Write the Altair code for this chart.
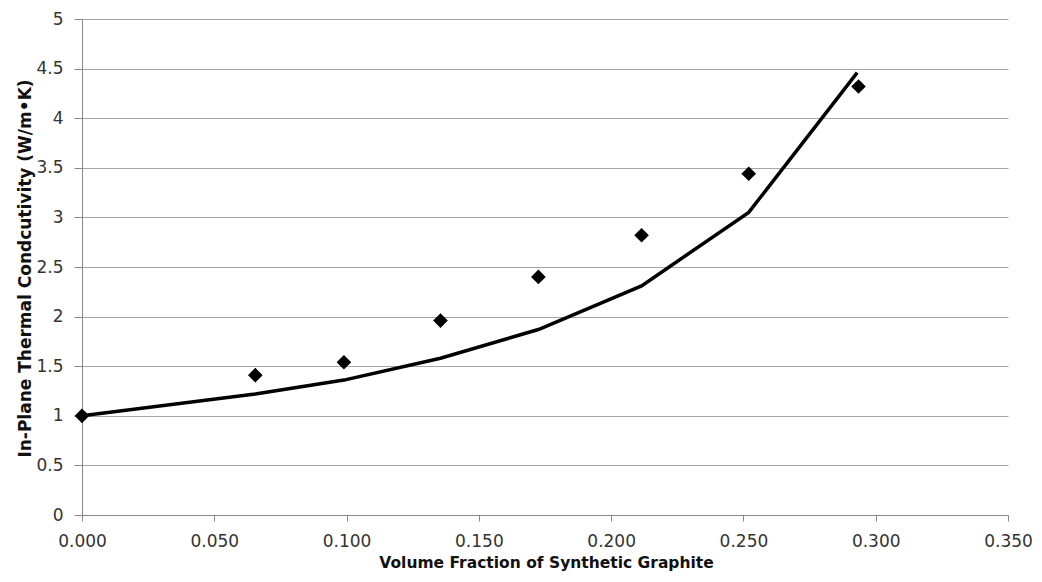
import altair as alt
import pandas as pd

# Measured data (diamonds)
meas_x = [0.000, 0.0655, 0.099, 0.1355, 0.1725, 0.2115, 0.252, 0.2935]
meas_y = [1.00, 1.41, 1.54, 1.96, 2.40, 2.82, 3.44, 4.32]

# Model curve (line)
model_x = [0.000, 0.0655, 0.099, 0.1355, 0.1725, 0.2115, 0.252, 0.293]
model_y = [1.00, 1.22, 1.36, 1.58, 1.87, 2.31, 3.05, 4.46]

x_ticks = [0.0, 0.05, 0.10, 0.15, 0.20, 0.25, 0.30, 0.35]
y_ticks = [0, 0.5, 1, 1.5, 2, 2.5, 3, 3.5, 4, 4.5, 5]

meas = pd.DataFrame({"x": meas_x, "y": meas_y})
model = pd.DataFrame({"x": model_x, "y": model_y})

W, H = 926, 496

x_scale = alt.Scale(domain=[0, 0.35], nice=False, zero=False)
y_scale = alt.Scale(domain=[0, 5], nice=False)

x_axis = alt.Axis(
    title="Volume Fraction of Synthetic Graphite",
    values=x_ticks, format=".3f", grid=False,
    domainColor="#868686", tickColor="#868686", tickSize=6,
    labelFont="DejaVu Sans", labelFontSize=17, labelColor="#333333",
    labelPadding=12, labelFlush=False,
    titleFont="DejaVu Sans", titleFontSize=15.5, titleFontWeight="bold",
    titleColor="#111111", titleX=W / 2 + 1, titleY=47, titleBaseline="middle",
)
y_axis = alt.Axis(
    title="In-Plane Thermal Condcutivity (W/m\u2022K)",
    values=y_ticks, format=".1~f", grid=True, gridColor="#a6a6a6",
    domainColor="#868686", tickColor="#868686", tickSize=8,
    labelFont="DejaVu Sans", labelFontSize=17, labelColor="#333333",
    labelPadding=11,
    titleFont="DejaVu Sans", titleFontSize=17, titleFontWeight="bold",
    titleColor="#111111", titleX=-57, titleY=249, titleBaseline="middle",
    titleAngle=270,
)

line = alt.Chart(model).mark_line(color="black", strokeWidth=3.5).encode(
    x=alt.X("x:Q", scale=x_scale, axis=x_axis),
    y=alt.Y("y:Q", scale=y_scale, axis=y_axis),
)

pts = alt.Chart(meas).mark_point(
    shape="diamond", filled=True, color="black", size=215, opacity=1
).encode(
    x=alt.X("x:Q", scale=x_scale),
    y=alt.Y("y:Q", scale=y_scale),
)

chart = (line + pts).properties(
    width=W, height=H,
    autosize=alt.AutoSizeParams(type="none"),
    padding={"left": 74, "top": 11, "right": 26, "bottom": 59},
    background="white",
).configure_view(stroke=None)

chart.save("out.html", embed_options={"renderer": "svg", "actions": False})
